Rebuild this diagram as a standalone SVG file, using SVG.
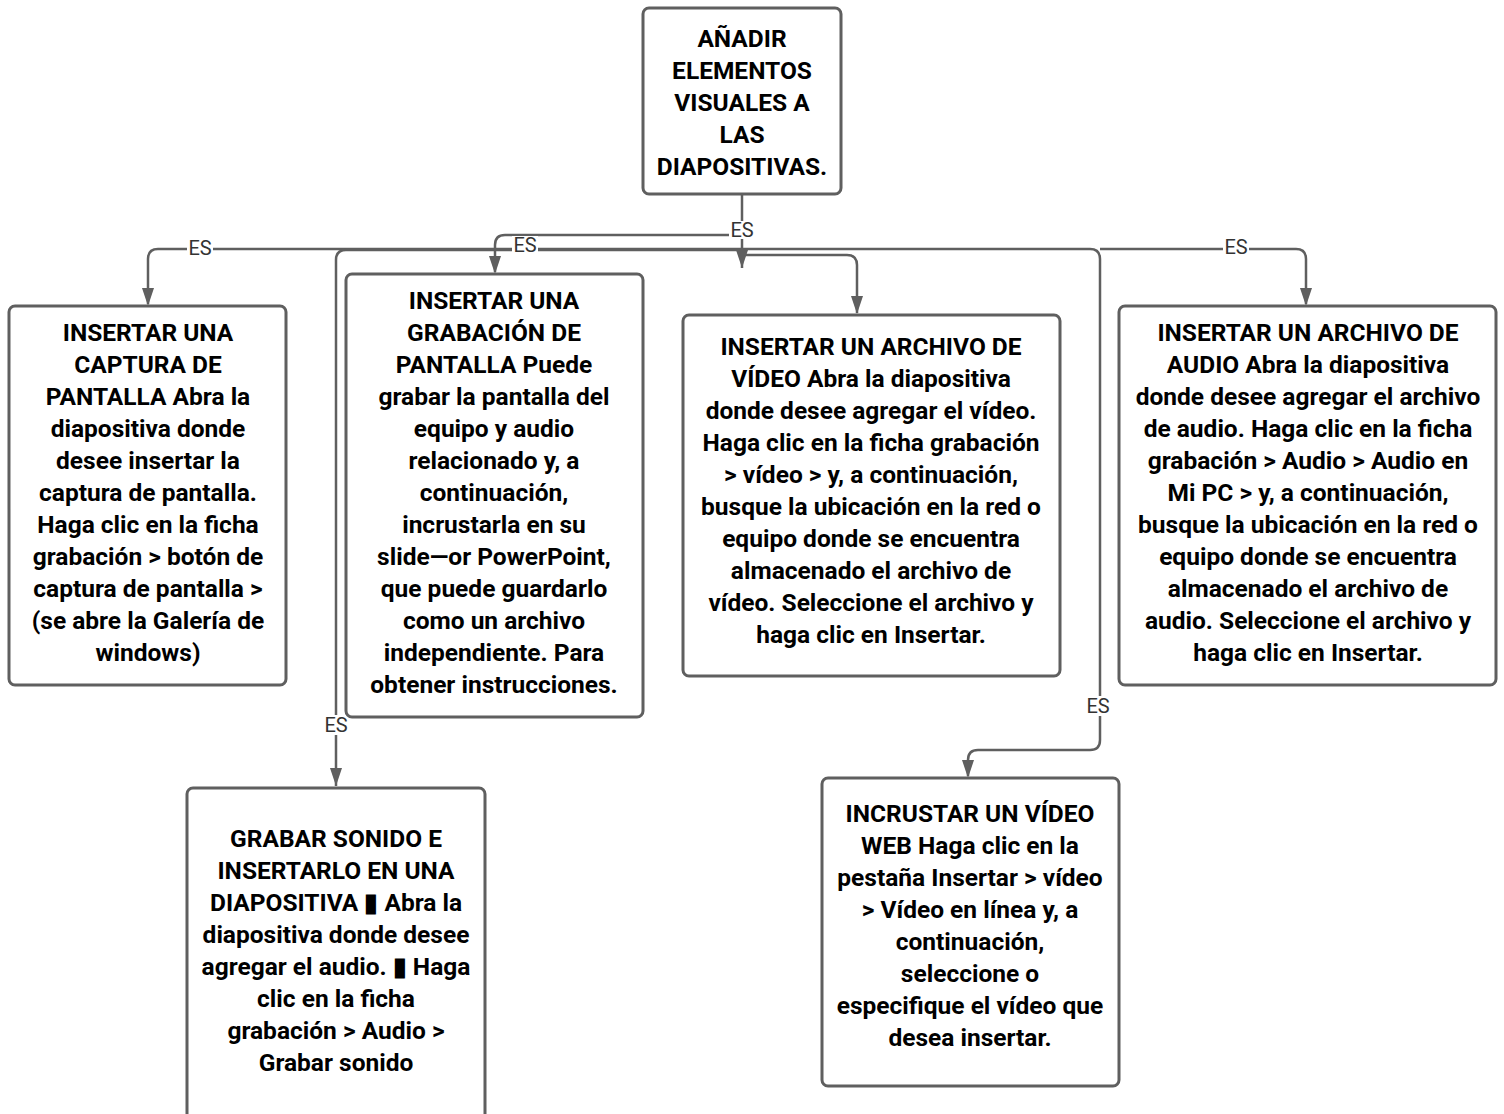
<svg xmlns="http://www.w3.org/2000/svg" width="1504" height="1114" viewBox="0 0 1504 1114">
<style>
.box{fill:#fff;stroke:#5f5f5f;stroke-width:3}
.t{font-family:Roboto,"Liberation Sans",sans-serif;font-weight:700;font-size:24.5px;fill:#000;text-anchor:middle}
.c{fill:none;stroke:#5f5f5f;stroke-width:2.5}
.lbl{font-family:Roboto,"Liberation Sans",sans-serif;font-size:20px;fill:#333;text-anchor:middle}
.lb{fill:#fff}
.ah{fill:#5f5f5f}
</style>
<rect width="1504" height="1114" fill="#fff"/>
<g id="connectors">
<path class="c" d="M742,194 V249"/>
<path class="c" d="M742,235 H505 Q495,235 495,245 V272"/>
<path class="c" d="M742,249 H158 Q148,249 148,259 V304"/>
<path class="c" d="M742,250 H346 Q336,250 336,260 V786"/>
<path class="c" d="M742,249 H1090 Q1100,249 1100,259 V740 Q1100,750 1090,750 H978 Q968,750 968,760 V776"/>
<path class="c" d="M1100,249 H1296 Q1306,249 1306,259 V304"/>
<path class="c" d="M742,255 H847 Q857,255 857,265 V313"/>
<path class="c" d="M742,249 V268"/>
<g class="ah">
<path d="M489,256 L501,256 L495,274 Z"/>
<path d="M142,288 L154,288 L148,306 Z"/>
<path d="M330,768 L342,768 L336,786 Z"/>
<path d="M962,760 L974,760 L968,778 Z"/>
<path d="M1300,288 L1312,288 L1306,306 Z"/>
<path d="M851,296 L863,296 L857,314 Z"/>
<path d="M736,250 L748,250 L742,268 Z"/>
</g>
<g>
<rect class="lb" x="729" y="221" width="26" height="18"/>
<text class="lbl" x="742" y="237">ES</text>
<rect class="lb" x="187" y="239" width="26" height="18"/>
<text class="lbl" x="200" y="255">ES</text>
<rect class="lb" x="512" y="236" width="26" height="18"/>
<text class="lbl" x="525" y="252">ES</text>
<rect class="lb" x="1223" y="238" width="26" height="18"/>
<text class="lbl" x="1236" y="254">ES</text>
<rect class="lb" x="323" y="715" width="26" height="20"/>
<text class="lbl" x="336" y="732">ES</text>
<rect class="lb" x="1085" y="696" width="26" height="20"/>
<text class="lbl" x="1098" y="713">ES</text>
</g>
</g>
<g id="root">
<rect class="box" x="643" y="8" width="198" height="186" rx="6"/>
<text class="t"><tspan x="742" y="47">AÑADIR</tspan><tspan x="742" y="79">ELEMENTOS</tspan><tspan x="742" y="111">VISUALES A</tspan><tspan x="742" y="143">LAS</tspan><tspan x="742" y="175">DIAPOSITIVAS.</tspan></text>
</g>
<g id="captura">
<rect class="box" x="9" y="306" width="277" height="379" rx="6"/>
<text class="t"><tspan x="148" y="341">INSERTAR UNA</tspan><tspan x="148" y="373">CAPTURA DE</tspan><tspan x="148" y="405">PANTALLA Abra la</tspan><tspan x="148" y="437">diapositiva donde</tspan><tspan x="148" y="469">desee insertar la</tspan><tspan x="148" y="501">captura de pantalla.</tspan><tspan x="148" y="533">Haga clic en la ficha</tspan><tspan x="148" y="565">grabación &gt; botón de</tspan><tspan x="148" y="597">captura de pantalla &gt;</tspan><tspan x="148" y="629">(se abre la Galería de</tspan><tspan x="148" y="661">windows)</tspan></text>
</g>
<g id="grabacion">
<rect class="box" x="346" y="274" width="297" height="443" rx="6"/>
<text class="t"><tspan x="494" y="309">INSERTAR UNA</tspan><tspan x="494" y="341">GRABACIÓN DE</tspan><tspan x="494" y="373">PANTALLA Puede</tspan><tspan x="494" y="405">grabar la pantalla del</tspan><tspan x="494" y="437">equipo y audio</tspan><tspan x="494" y="469">relacionado y, a</tspan><tspan x="494" y="501">continuación,</tspan><tspan x="494" y="533">incrustarla en su</tspan><tspan x="494" y="565">slide—or PowerPoint,</tspan><tspan x="494" y="597">que puede guardarlo</tspan><tspan x="494" y="629">como un archivo</tspan><tspan x="494" y="661">independiente. Para</tspan><tspan x="494" y="693">obtener instrucciones.</tspan></text>
</g>
<g id="video">
<rect class="box" x="683" y="315" width="377" height="361" rx="6"/>
<text class="t"><tspan x="871" y="355">INSERTAR UN ARCHIVO DE</tspan><tspan x="871" y="387">VÍDEO Abra la diapositiva</tspan><tspan x="871" y="419">donde desee agregar el vídeo.</tspan><tspan x="871" y="451">Haga clic en la ficha grabación</tspan><tspan x="871" y="483">&gt; vídeo &gt; y, a continuación,</tspan><tspan x="871" y="515">busque la ubicación en la red o</tspan><tspan x="871" y="547">equipo donde se encuentra</tspan><tspan x="871" y="579">almacenado el archivo de</tspan><tspan x="871" y="611">vídeo. Seleccione el archivo y</tspan><tspan x="871" y="643">haga clic en Insertar.</tspan></text>
</g>
<g id="audio">
<rect class="box" x="1119" y="306" width="377" height="379" rx="6"/>
<text class="t"><tspan x="1308" y="341">INSERTAR UN ARCHIVO DE</tspan><tspan x="1308" y="373">AUDIO Abra la diapositiva</tspan><tspan x="1308" y="405">donde desee agregar el archivo</tspan><tspan x="1308" y="437">de audio. Haga clic en la ficha</tspan><tspan x="1308" y="469">grabación &gt; Audio &gt; Audio en</tspan><tspan x="1308" y="501">Mi PC &gt; y, a continuación,</tspan><tspan x="1308" y="533">busque la ubicación en la red o</tspan><tspan x="1308" y="565">equipo donde se encuentra</tspan><tspan x="1308" y="597">almacenado el archivo de</tspan><tspan x="1308" y="629">audio. Seleccione el archivo y</tspan><tspan x="1308" y="661">haga clic en Insertar.</tspan></text>
</g>
<g id="sonido">
<rect class="box" x="187" y="788" width="298" height="332" rx="6"/>
<text class="t"><tspan x="336" y="847">GRABAR SONIDO E</tspan><tspan x="336" y="879">INSERTARLO EN UNA</tspan><tspan x="336" y="911">DIAPOSITIVA ▮ Abra la</tspan><tspan x="336" y="943">diapositiva donde desee</tspan><tspan x="336" y="975">agregar el audio. ▮ Haga</tspan><tspan x="336" y="1007">clic en la ficha</tspan><tspan x="336" y="1039">grabación &gt; Audio &gt;</tspan><tspan x="336" y="1071">Grabar sonido</tspan></text>
</g>
<g id="incrustar">
<rect class="box" x="822" y="778" width="297" height="308" rx="6"/>
<text class="t"><tspan x="970" y="822">INCRUSTAR UN VÍDEO</tspan><tspan x="970" y="854">WEB Haga clic en la</tspan><tspan x="970" y="886">pestaña Insertar &gt; vídeo</tspan><tspan x="970" y="918">&gt; Vídeo en línea y, a</tspan><tspan x="970" y="950">continuación,</tspan><tspan x="970" y="982">seleccione o</tspan><tspan x="970" y="1014">especifique el vídeo que</tspan><tspan x="970" y="1046">desea insertar.</tspan></text>
</g>
</svg>
